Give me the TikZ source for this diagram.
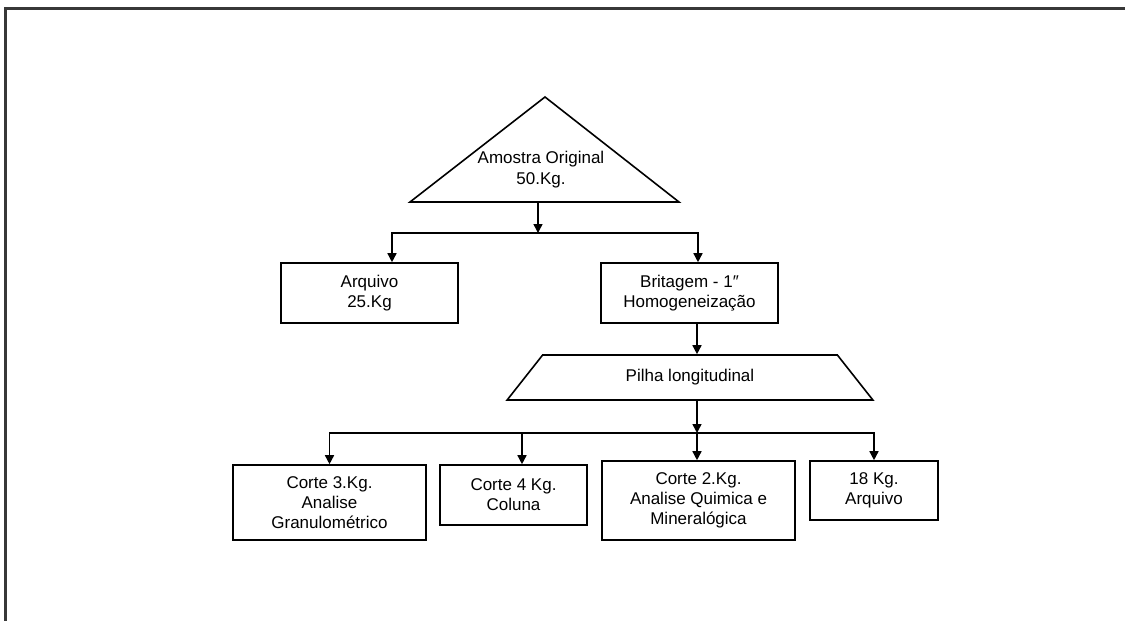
\documentclass[tikz,border=0pt]{standalone}
\usepackage{fontspec}
\setmainfont{Liberation Sans}
\usepackage{tikz}
\usetikzlibrary{positioning,arrows.meta,shapes.geometric,calc}
\definecolor{framegrey}{HTML}{383838}
\tikzset{
  box/.style   = {draw, line width=0.8pt, align=center, inner sep=2pt,
                  font=\fontsize{8.5}{10}\selectfont},
  pile/.style  = {box, trapezium, trapezium left angle=55.4,
                  trapezium right angle=55.4, trapezium stretches=true},
  outline/.style = {draw, line width=0.8pt},
  arr/.style   = {-{Triangle[length=4.5pt,width=4.5pt]}, line width=0.75pt},
  frame/.style = {draw=framegrey, line width=1.5pt},
}
\begin{document}
\begin{tikzpicture}[x=0.5pt,y=-0.5pt]
  \useasboundingbox (0,0) rectangle (1125,621);
  \draw[frame] (1125,8) -- (5,8) -- (5,621);

  % sample pile (triangle)
  \draw[outline] (410,202) -- (545,97) -- (679,202) -- cycle;
  \node[align=center, font=\fontsize{8.5}{10.5}\selectfont] (amostra) at (541,170)
        {Amostra Original\\50.Kg.};
  \coordinate (tribase) at (538,202);
  \coordinate (j1) at (538,233);

  \node[box, minimum width=88.5pt, minimum height=30pt] (arq) at (369.5,293)
        {Arquivo\\25.Kg};
  \node[box, minimum width=88.5pt, minimum height=30pt] (brit) at (689.5,293)
        {Britagem - 1″\\Homogeneização};
  \node[pile, minimum width=183pt, minimum height=22.5pt] (pilha) at (690,377.5)
        {Pilha longitudinal};
  \coordinate (j2) at (697,433);

  \node[box, minimum width=96.5pt, minimum height=37.5pt] (c1) at (329.5,502.5)
        {Corte 3.Kg.\\Analise\\Granulométrico};
  \node[box, minimum width=73.5pt, minimum height=30pt] (c2) at (513.5,495)
        {Corte 4 Kg.\\Coluna};
  \node[box, minimum width=96.5pt, minimum height=39.5pt] (c3) at (698.5,500.5)
        {Corte 2.Kg.\\Analise Quimica e\\Mineralógica};
  \node[box, minimum width=64pt, minimum height=29.5pt] (c4) at (874,490.5)
        {18 Kg.\\Arquivo};

  \draw[arr] (tribase) -- (j1);
  \draw[arr] (j1) -| ([xshift=11.25pt]arq.north);
  \draw[arr] (j1) -| ([xshift=4.25pt]brit.north);
  \draw[arr] (brit.south -| j2) -- (pilha.north -| j2);
  \draw[arr] (pilha.south -| j2) -- (j2);
  \draw[arr] (j2) -| (c1.north);
  \draw[arr] (j2) -| ([xshift=4.25pt]c2.north);
  \draw[arr] (j2) -- (c3.north -| j2);
  \draw[arr] (j2) -| (c4.north);
\end{tikzpicture}
\end{document}
